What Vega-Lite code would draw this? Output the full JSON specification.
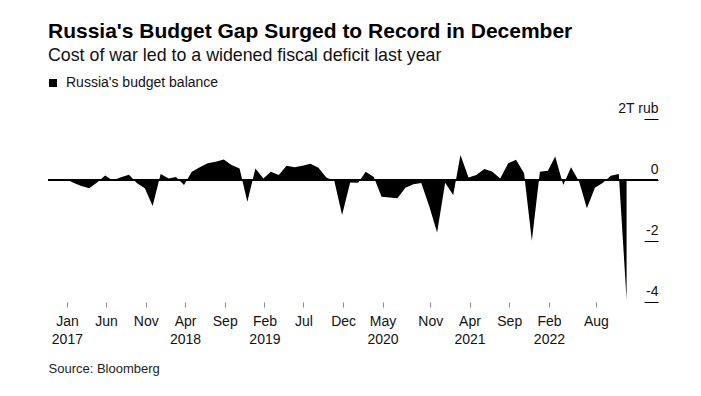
{
  "$schema": "https://vega.github.io/schema/vega-lite/v6.json",
  "autosize": {"type": "none"},
  "width": 610,
  "height": 183,
  "padding": {"left": 48, "top": 119, "right": 43, "bottom": 94},
  "config": {
    "font": "Liberation Sans",
    "view": {"stroke": null},
    "title": {"font": "Liberation Sans"}
  },
  "title": {
    "text": "Russia's Budget Gap Surged to Record in December",
    "subtitle": "Cost of war led to a widened fiscal deficit last year",
    "anchor": "start",
    "frame": "group",
    "fontSize": 21,
    "fontWeight": "bold",
    "color": "#000000",
    "subtitleFontSize": 17.8,
    "subtitleColor": "#111111",
    "subtitlePadding": 5,
    "offset": 11
  },
  "data": {
    "values": [
      {"date": "2017-01-01", "balance": 0.03},
      {"date": "2017-02-01", "balance": -0.1},
      {"date": "2017-03-01", "balance": -0.2},
      {"date": "2017-04-01", "balance": -0.27},
      {"date": "2017-05-01", "balance": -0.08},
      {"date": "2017-06-01", "balance": 0.15},
      {"date": "2017-07-01", "balance": -0.02},
      {"date": "2017-08-01", "balance": 0.09},
      {"date": "2017-09-01", "balance": 0.17},
      {"date": "2017-10-01", "balance": -0.1},
      {"date": "2017-11-01", "balance": -0.27},
      {"date": "2017-12-01", "balance": -0.85},
      {"date": "2018-01-01", "balance": 0.2},
      {"date": "2018-02-01", "balance": 0.05},
      {"date": "2018-03-01", "balance": 0.1},
      {"date": "2018-04-01", "balance": -0.16},
      {"date": "2018-05-01", "balance": 0.27},
      {"date": "2018-06-01", "balance": 0.42},
      {"date": "2018-07-01", "balance": 0.55},
      {"date": "2018-08-01", "balance": 0.6},
      {"date": "2018-09-01", "balance": 0.67},
      {"date": "2018-10-01", "balance": 0.49},
      {"date": "2018-11-01", "balance": 0.38},
      {"date": "2018-12-01", "balance": -0.71},
      {"date": "2019-01-01", "balance": 0.38},
      {"date": "2019-02-01", "balance": 0.05},
      {"date": "2019-03-01", "balance": 0.27},
      {"date": "2019-04-01", "balance": 0.16},
      {"date": "2019-05-01", "balance": 0.47},
      {"date": "2019-06-01", "balance": 0.42},
      {"date": "2019-07-01", "balance": 0.47},
      {"date": "2019-08-01", "balance": 0.53},
      {"date": "2019-09-01", "balance": 0.4},
      {"date": "2019-10-01", "balance": 0.08},
      {"date": "2019-11-01", "balance": -0.03},
      {"date": "2019-12-01", "balance": -1.15},
      {"date": "2020-01-01", "balance": -0.08},
      {"date": "2020-02-01", "balance": -0.09},
      {"date": "2020-03-01", "balance": 0.27},
      {"date": "2020-04-01", "balance": 0.1},
      {"date": "2020-05-01", "balance": -0.55},
      {"date": "2020-06-01", "balance": -0.57},
      {"date": "2020-07-01", "balance": -0.6},
      {"date": "2020-08-01", "balance": -0.25},
      {"date": "2020-09-01", "balance": -0.14},
      {"date": "2020-10-01", "balance": -0.1},
      {"date": "2020-11-01", "balance": -0.87},
      {"date": "2020-12-01", "balance": -1.72},
      {"date": "2021-01-01", "balance": -0.09},
      {"date": "2021-02-01", "balance": -0.49},
      {"date": "2021-03-01", "balance": 0.82},
      {"date": "2021-04-01", "balance": 0.08},
      {"date": "2021-05-01", "balance": 0.16},
      {"date": "2021-06-01", "balance": 0.36},
      {"date": "2021-07-01", "balance": 0.28},
      {"date": "2021-08-01", "balance": 0.05},
      {"date": "2021-09-01", "balance": 0.55},
      {"date": "2021-10-01", "balance": 0.66},
      {"date": "2021-11-01", "balance": 0.22},
      {"date": "2021-12-01", "balance": -1.99},
      {"date": "2022-01-01", "balance": 0.27},
      {"date": "2022-02-01", "balance": 0.3},
      {"date": "2022-03-01", "balance": 0.77},
      {"date": "2022-04-01", "balance": -0.16},
      {"date": "2022-05-01", "balance": 0.42},
      {"date": "2022-06-01", "balance": -0.05},
      {"date": "2022-07-01", "balance": -0.93},
      {"date": "2022-08-01", "balance": -0.25},
      {"date": "2022-09-01", "balance": -0.09},
      {"date": "2022-10-01", "balance": 0.14},
      {"date": "2022-11-01", "balance": 0.2},
      {"date": "2022-12-01", "balance": -3.93}
    ]
  },
  "layer": [
    {
      "mark": {"type": "area", "interpolate": "linear"},
      "encoding": {
        "x": {
          "field": "date",
          "type": "temporal",
          "scale": {
            "type": "utc",
            "domain": [
              {"year": 2016, "month": 10, "date": 24, "utc": true},
              {"year": 2023, "month": 4, "date": 1, "utc": true}
            ]
          },
          "axis": {
            "title": "Source: Bloomberg",
            "titleAnchor": "start",
            "titleAlign": "left",
            "titleX": 0,
            "titleY": 70,
            "titleBaseline": "alphabetic",
            "titleFontSize": 13,
            "titleFontWeight": "normal",
            "titleColor": "#222222",
            "domain": false,
            "grid": false,
            "tickSize": 5,
            "tickOffset": 1,
            "tickColor": "#888888",
            "labelPadding": 7,
            "labelFontSize": 14,
            "labelColor": "#111111",
            "labelLineHeight": 18,
            "labelBaseline": "top",
            "labelOverlap": false,
            "values": [
              {"year": 2017, "month": 1, "date": 1, "utc": true},
              {"year": 2017, "month": 6, "date": 1, "utc": true},
              {"year": 2017, "month": 11, "date": 1, "utc": true},
              {"year": 2018, "month": 4, "date": 1, "utc": true},
              {"year": 2018, "month": 9, "date": 1, "utc": true},
              {"year": 2019, "month": 2, "date": 1, "utc": true},
              {"year": 2019, "month": 7, "date": 1, "utc": true},
              {"year": 2019, "month": 12, "date": 1, "utc": true},
              {"year": 2020, "month": 5, "date": 1, "utc": true},
              {"year": 2020, "month": 11, "date": 1, "utc": true},
              {"year": 2021, "month": 4, "date": 1, "utc": true},
              {"year": 2021, "month": 9, "date": 1, "utc": true},
              {"year": 2022, "month": 2, "date": 1, "utc": true},
              {"year": 2022, "month": 8, "date": 1, "utc": true}
            ],
            "labelExpr": "utcmonth(datum.value) < 5 ? [utcFormat(datum.value, '%b'), utcFormat(datum.value, '%Y')] : utcFormat(datum.value, '%b')"
          }
        },
        "y": {
          "field": "balance",
          "type": "quantitative",
          "scale": {"domain": [-4, 2], "nice": false},
          "axis": {
            "orient": "right",
            "title": null,
            "domain": false,
            "grid": false,
            "values": [-4, -2, 0, 2],
            "tickSize": -14,
            "tickColor": "#000000",
            "labelAlign": "right",
            "labelBaseline": "alphabetic",
            "labelOffset": -7,
            "labelPadding": 14,
            "labelFontSize": 14,
            "labelColor": "#111111",
            "labelExpr": "datum.value == 2 ? '2T rub' : '' + datum.value"
          }
        },
        "y2": {"datum": 0},
        "color": {
          "datum": "Russia's budget balance",
          "type": "nominal",
          "scale": {"range": ["#000000"]},
          "legend": {
            "title": null,
            "orient": "none",
            "legendX": -2,
            "legendY": -43,
            "symbolType": "square",
            "symbolSize": 64,
            "symbolStrokeWidth": 0,
            "labelFontSize": 14,
            "labelColor": "#111111",
            "labelOffset": 6,
            "padding": 0
          }
        }
      }
    },
    {
      "mark": {"type": "rule", "color": "#000000", "strokeWidth": 1},
      "encoding": {"y": {"datum": 0}}
    }
  ]
}
